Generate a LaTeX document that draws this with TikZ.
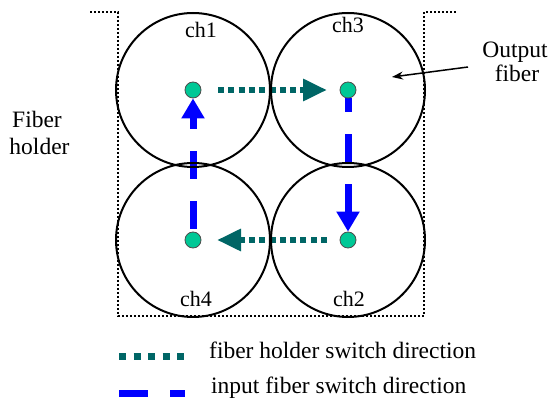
\documentclass[tikz,border=0pt]{standalone}
\usepackage{fontspec}
\setmainfont{Liberation Serif}
\usetikzlibrary{arrows.meta,backgrounds}
\definecolor{tealc}{RGB}{0,102,102}
\definecolor{dotg}{RGB}{0,200,150}
\definecolor{blu}{RGB}{0,0,255}
\begin{document}
\begin{tikzpicture}[x=1pt,y=-1pt,
 fiber/.style={circle,draw,line width=2pt,minimum size=154pt,inner sep=0pt},
 core/.style={circle,draw=black!70,fill=dotg,line width=0.8pt,minimum size=16pt,inner sep=0pt},
 chlab/.style={anchor=base,font=\fontsize{22}{26}\selectfont,inner sep=0pt},
 lab/.style={anchor=base,font=\fontsize{23.5}{27}\selectfont,inner sep=0pt},
 holderarrow/.style={draw=tealc,line width=6pt,dash pattern=on 6pt off 4.3pt,-{Triangle[length=24pt,width=21pt]}},
 inputarrow/.style={draw=blu,line width=7pt,dash pattern=on 28pt off 22pt,-{Triangle[length=20pt,width=22pt]}},
 holderleg/.style={draw=tealc,line width=7pt,dash pattern=on 7pt off 7.5pt},
 inputleg/.style={draw=blu,line width=7pt,dash pattern=on 29pt off 22pt},
 box/.style={line width=1.8pt,dash pattern=on 1.8pt off 2.2pt},
 pointer/.style={line width=1.5pt,-{Stealth[length=11pt,width=8pt]}}
]
\useasboundingbox (0,0) rectangle (549,403);
% fiber holder outline
\draw[box] (90,12) -- (118,12) -- (118,316) -- (424,316) -- (424,12) -- (457,12);
% fibers
\node[fiber] (c1) at (193,90) {};
\node[fiber] (c3) at (348,90) {};
\node[fiber] (c4) at (193,240) {};
\node[fiber] (c2) at (348,240) {};
% cores
\node[core] (d1) at (193,90) {};
\node[core] (d3) at (348,90) {};
\node[core] (d4) at (193,240) {};
\node[core] (d2) at (348,240) {};
% channel labels
\node[chlab] (l1) at (201,38) {ch1};
\node[chlab] (l3) at (348,33) {ch3};
\node[chlab] (l4) at (196,307) {ch4};
\node[chlab] (l2) at (349,307) {ch2};
% switch arrows
\begin{pgfonlayer}{background}
\draw[holderarrow,shorten <=16.6pt,shorten >=12.6pt] (d1) -- (d3);
\draw[holderarrow,shorten <=12.6pt,shorten >=15.6pt] (d2) -- (d4);
\draw[inputarrow,shorten <=2.6pt] (d4) -- (d1);
\draw[inputarrow,dash phase=14pt] (d3) -- (d2);
\end{pgfonlayer}
% side labels
\node[lab] (fh1) at (37,128) {Fiber};
\node[lab] (fh2) at (39.5,155) {holder};
\node[lab] (of1) at (515,58) {Output};
\node[lab] (of2) at (517,82) {fiber};
\coordinate (ofs) at (468,67);
\coordinate (ofe) at (392,77);
\draw[pointer] (ofs) -- (ofe);
% legend
\coordinate (lt1) at (119,357);
\coordinate (lt2) at (184,357);
\coordinate (lb1) at (119,393);
\coordinate (lb2) at (185,393);
\draw[holderleg] (lt1) -- (lt2);
\draw[inputleg] (lb1) -- (lb2);
\node[lab,anchor=base west] (lg1) at (209,359) {fiber holder switch direction};
\node[lab,anchor=base west] (lg2) at (211,393) {input fiber switch direction};
\end{tikzpicture}
\end{document}
